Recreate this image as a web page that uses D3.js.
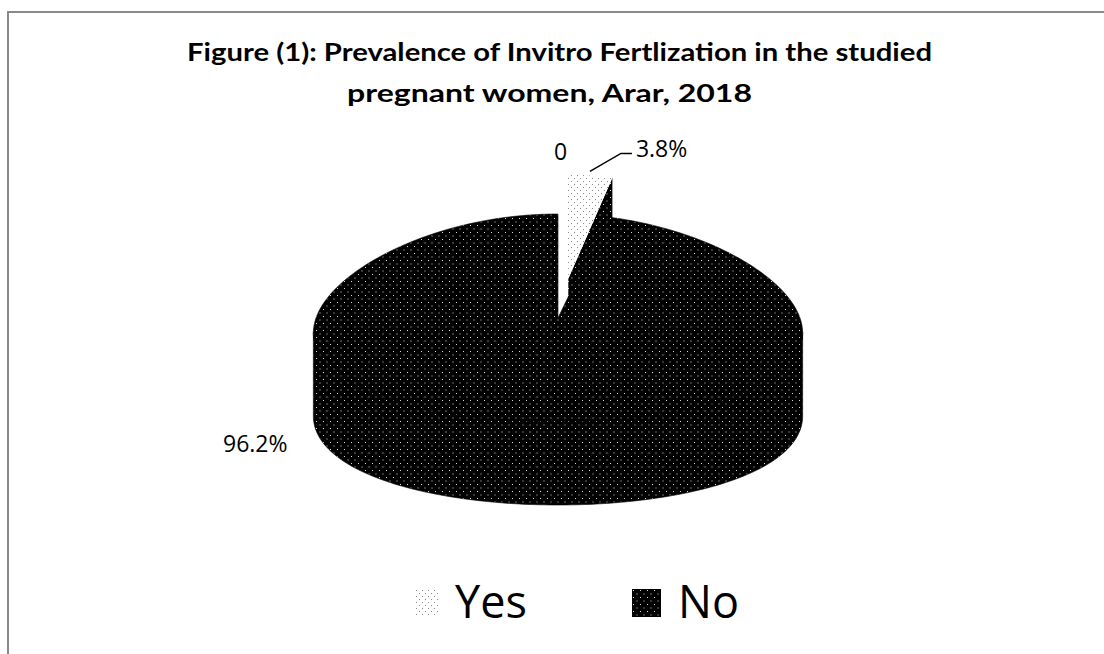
<!DOCTYPE html>
<html>
<head>
<meta charset="utf-8">
<script src="https://cdn.jsdelivr.net/npm/d3@7"></script>
<style>
	body { margin: 0; background: #fff; }
	svg { display: block; }
</style>
</head>
<body>
<div id="chartDiv"></div>
<script>
; (function () {

	var categories = ["Yes", "No"];
	var values = [3.8, 96.2];
	var valueLabels = ["3.8%", "96.2%"];
	var titleLines = [
		"Figure (1): Prevalence of Invitro Fertlization in the studied",
		"pregnant women, Arar, 2018"
	];

	var width = 1104;
	var height = 654;

	// 3d pie geometry
	var cx = 558, cy = 318;
	var rx = 242, ry = 104;
	var depth = 83;
	var persp = 0.15;
	var explode = [0.38, 0];

	var chart;

	init();

	function init() {
		chart = d3.select("#chartDiv").append("svg")
			.attr("width", width)
			.attr("height", height);

		makePatterns();

		chart.append("rect")
			.attr("x", 8).attr("y", 12)
			.attr("width", 1200).attr("height", 800)
			.attr("fill", "none")
			.attr("stroke", "#898989")
			.attr("stroke-width", 2);

		drawTitle();
		drawPie();
		drawLegend();
	}

	function makePatterns() {
		var defs = chart.append("defs");

		var dark = defs.append("pattern")
			.attr("id", "dotsDark")
			.attr("patternUnits", "userSpaceOnUse")
			.attr("width", 7).attr("height", 7);
		dark.append("rect").attr("width", 7).attr("height", 7).attr("fill", "#000");
		dark.append("rect").attr("x", 1).attr("y", 1).attr("width", 1).attr("height", 1).attr("fill", "#d8d8d8");
		dark.append("rect").attr("x", 4.5).attr("y", 4.5).attr("width", 1).attr("height", 1).attr("fill", "#d8d8d8");

		var light = defs.append("pattern")
			.attr("id", "dotsLight")
			.attr("patternUnits", "userSpaceOnUse")
			.attr("width", 6).attr("height", 6);
		light.append("rect").attr("width", 6).attr("height", 6).attr("fill", "#fff");
		light.append("rect").attr("x", 1).attr("y", 1).attr("width", 1).attr("height", 1).attr("fill", "#8a8a8a");
		light.append("rect").attr("x", 4).attr("y", 4).attr("width", 1).attr("height", 1).attr("fill", "#8a8a8a");
	}

	function drawTitle() {
		var starts = [187, 347];
		var lengths = [745, 405];
		var baselines = [61, 102];
		chart.selectAll(".title")
			.data(titleLines)
			.enter().append("text")
			.attr("class", "title")
			.attr("x", function (d, i) { return starts[i]; })
			.attr("y", function (d, i) { return baselines[i]; })
			.attr("textLength", function (d, i) { return lengths[i]; })
			.attr("lengthAdjust", "spacingAndGlyphs")
			.style("font-family", "Lato, 'Open Sans', sans-serif")
			.style("font-weight", "bold")
			.style("font-size", "25px")
			.attr("fill", "#000")
			.text(function (d) { return d; });
	}

	// project pie-plane point (angle a clockwise from back, radius r, drop z) to screen
	function proj(a, r, z, off) {
		var X = r * Math.sin(a) + off[0];
		var B = r * Math.cos(a) + off[1];
		var s = 1 - persp * B;
		return [cx + rx * X * s, cy - ry * B + z];
	}

	function arcPoints(a0, a1, z, off, lift) {
		var n = Math.max(2, Math.ceil(Math.abs(a1 - a0) / 0.02));
		var pts = [];
		for (var i = 0; i <= n; i++) {
			var a = a0 + (a1 - a0) * i / n;
			var dz = lift ? -lift * Math.max(0, -Math.cos(a)) : 0;
			pts.push(proj(a, 1, z + dz, off));
		}
		return pts;
	}

	// angle where the rim is widest on screen (silhouette of the wall)
	function rimTangent() {
		var a = Math.PI / 2;
		for (var k = 0; k < 20; k++) {
			var f = Math.cos(a) - persp * Math.cos(2 * a);
			var df = -Math.sin(a) + 2 * persp * Math.sin(2 * a);
			a -= f / df;
		}
		return a;
	}

	function drawPie() {
		var pie = d3.pie().sort(null).value(function (d) { return d; });
		var arcs = pie(values);
		var line = d3.line();
		var aT = rimTangent();

		arcs.forEach(function (d, i) {
			var mid = (d.startAngle + d.endAngle) / 2;
			var e = explode[i];
			d.off = [e * Math.sin(mid), e * Math.cos(mid)];
			d.fill = i === 0 ? "url(#dotsLight)" : "url(#dotsDark)";
		});

		var g = chart.append("g").attr("class", "pie3d");

		// slices further back are painted first
		var order = arcs.slice().sort(function (a, b) { return b.off[1] - a.off[1]; });

		order.forEach(function (d) {
			var off = d.off;
			var sideFill = "url(#dotsDark)";
			var dark = d.fill === sideFill;

			// end cut face (faces the viewer when slice sits on the back-left of it)
			var ea = d.endAngle;
			if (Math.cos(ea) > 0 && ea < Math.PI * 2 - 1e-6) {
				var c0 = proj(0, 0, 0, off), c1 = proj(ea, 1, 0, off);
				var face = [c0, c1, [c1[0], c1[1] + depth], [c0[0], c0[1] + depth]];
				g.append("path")
					.attr("d", line(face) + "Z")
					.attr("fill", sideFill);
			}

			// outer wall on the visible front part, tucked under the top face
			var w0 = Math.max(d.startAngle, aT);
			var w1 = Math.min(d.endAngle, Math.PI * 2 - aT);
			if (w1 > w0) {
				var top = arcPoints(w0, w1, 0, off, 4);
				var bottom = arcPoints(w1, w0, depth, off);
				g.append("path")
					.attr("d", line(top.concat(bottom)) + "Z")
					.attr("fill", sideFill)
					.attr("stroke", "#000")
					.attr("stroke-width", 0.6);
			}

			// top face
			var pts = [proj(0, 0, 0, off)].concat(arcPoints(d.startAngle, d.endAngle, 0, off));
			g.append("path")
				.attr("d", line(pts) + "Z")
				.attr("fill", d.fill)
				.attr("stroke", dark ? "#000" : "none")
				.attr("stroke-width", 0.6);
		});

		// labels
		var yes = arcs[0];
		var yesMid = (yes.startAngle + yes.endAngle) / 2;
		var p0 = proj(yesMid, 1.02, -2, yes.off);
		var p1 = [p0[0] + 31, p0[1] - 18];
		var p2 = [p1[0] + 11, p1[1]];
		chart.append("path")
			.attr("d", line([p0, p1, p2]))
			.attr("fill", "none")
			.attr("stroke", "#000")
			.attr("stroke-width", 1.5);

		var labelFont = "'Open Sans', 'Noto Sans', sans-serif";

		chart.append("text")
			.attr("x", p2[0] + 4)
			.attr("y", p2[1] + 4)
			.style("font-family", labelFont)
			.style("font-size", "23px")
			.text(valueLabels[0]);

		var s0 = proj(yes.startAngle, 1, 0, yes.off);
		chart.append("text")
			.attr("x", s0[0] - 6)
			.attr("y", s0[1] - 15)
			.attr("text-anchor", "middle")
			.style("font-family", labelFont)
			.style("font-size", "23px")
			.text("0");

		var no = arcs[1];
		var leftPt = proj(Math.PI * 1.5, 1, 0, no.off);
		chart.append("text")
			.attr("x", leftPt[0] - 93)
			.attr("y", leftPt[1] + 134)
			.style("font-family", labelFont)
			.style("font-size", "23px")
			.text(valueLabels[1]);
	}

	function drawLegend() {
		var x = d3.scalePoint()
			.domain(categories)
			.range([415, 632]);
		var fills = ["url(#dotsLight)", "url(#dotsDark)"];

		var item = chart.selectAll(".legend")
			.data(categories)
			.enter().append("g")
			.attr("class", "legend")
			.attr("transform", function (d) { return "translate(" + x(d) + ",589)"; });

		item.append("rect")
			.attr("width", function (d, i) { return i === 0 ? 23 : 29; })
			.attr("height", 28)
			.attr("fill", function (d, i) { return fills[i]; });

		item.append("text")
			.attr("x", function (d, i) { return i === 0 ? 40 : 46; })
			.attr("y", 29)
			.style("font-family", "'Open Sans', 'Noto Sans', sans-serif")
			.style("font-size", "45px")
			.text(function (d) { return d; });
	}

})();
</script>
</body>
</html>
